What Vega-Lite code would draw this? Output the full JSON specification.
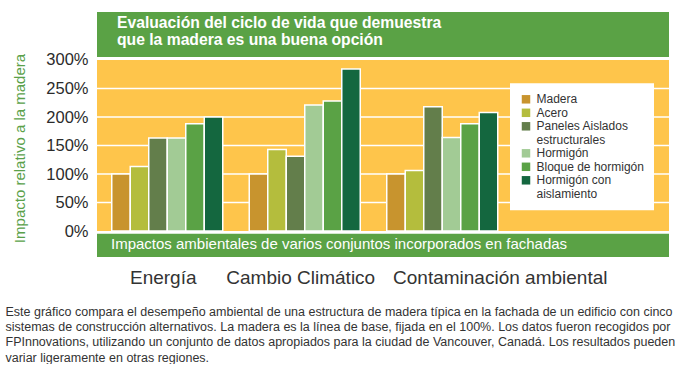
{
  "$schema": "https://vega.github.io/schema/vega-lite/v6.json",
  "width": 572,
  "height": 245,
  "padding": {"left": 5, "top": 12, "right": 0, "bottom": 0},
  "background": "white",
  "config": {"view": {"stroke": null}, "font": "Liberation Sans"},
  "datasets": {
    "bars": [
      {"impacto": "Energía", "material": "Madera", "valor": 100},
      {"impacto": "Energía", "material": "Acero", "valor": 113},
      {"impacto": "Energía", "material": "Paneles Aislados estructurales", "valor": 163},
      {"impacto": "Energía", "material": "Hormigón", "valor": 163},
      {"impacto": "Energía", "material": "Bloque de hormigón", "valor": 188},
      {"impacto": "Energía", "material": "Hormigón con aislamiento", "valor": 200},
      {"impacto": "Cambio Climático", "material": "Madera", "valor": 100},
      {"impacto": "Cambio Climático", "material": "Acero", "valor": 143},
      {"impacto": "Cambio Climático", "material": "Paneles Aislados estructurales", "valor": 131},
      {"impacto": "Cambio Climático", "material": "Hormigón", "valor": 221},
      {"impacto": "Cambio Climático", "material": "Bloque de hormigón", "valor": 228},
      {"impacto": "Cambio Climático", "material": "Hormigón con aislamiento", "valor": 284},
      {"impacto": "Contaminación ambiental", "material": "Madera", "valor": 100},
      {"impacto": "Contaminación ambiental", "material": "Acero", "valor": 106},
      {"impacto": "Contaminación ambiental", "material": "Paneles Aislados estructurales", "valor": 218},
      {"impacto": "Contaminación ambiental", "material": "Hormigón", "valor": 164},
      {"impacto": "Contaminación ambiental", "material": "Bloque de hormigón", "valor": 188},
      {"impacto": "Contaminación ambiental", "material": "Hormigón con aislamiento", "valor": 208}
    ],
    "grid": [{"pct": 50}, {"pct": 100}, {"pct": 150}, {"pct": 200}, {"pct": 250}],
    "one": [{}],
    "titulo": [{"t": "Evaluación del ciclo de vida que demuestra\nque la madera es una buena opción"}],
    "pie": [{"t": "Impactos ambientales de varios conjuntos incorporados en fachadas"}]
  },
  "layer": [
    {
      "data": {"name": "one"},
      "mark": {"type": "rect", "fill": "#fec54b"},
      "encoding": {
        "y": {"datum": 0, "type": "quantitative", "scale": {"domain": [-45.6, 384.2], "nice": false, "zero": false}},
        "y2": {"datum": 300}
      }
    },
    {
      "data": {"name": "one"},
      "mark": {"type": "rect", "fill": "#5aa245"},
      "encoding": {
        "y": {"datum": 305.3, "type": "quantitative", "scale": {"domain": [-45.6, 384.2], "nice": false, "zero": false}},
        "y2": {"datum": 384.2}
      }
    },
    {
      "data": {"name": "one"},
      "mark": {"type": "rect", "fill": "#5aa245"},
      "encoding": {
        "y": {"datum": -45.6, "type": "quantitative", "scale": {"domain": [-45.6, 384.2], "nice": false, "zero": false}},
        "y2": {"datum": -4.7}
      }
    },
    {
      "data": {"name": "grid"},
      "mark": {"type": "rule", "stroke": "white", "strokeWidth": 1.5},
      "encoding": {
        "y": {"field": "pct", "type": "quantitative", "scale": {"domain": [-45.6, 384.2], "nice": false, "zero": false}}
      }
    },
    {
      "data": {"name": "bars"},
      "mark": {"type": "bar", "stroke": "white", "strokeWidth": 1.5},
      "encoding": {
        "x": {
          "field": "impacto", "type": "nominal", "sort": null,
          "scale": {"domain": ["Energía", "Cambio Climático", "Contaminación ambiental"], "paddingInner": 0, "paddingOuter": 0.58, "align": 0.0094},
          "axis": {
            "domain": false, "ticks": false, "labelAngle": 0, "labelLimit": 0,
            "labelPadding": 11, "labelFontSize": 19, "labelColor": "#333333", "labelFont": "Liberation Sans",
            "labelOffset": {"condition": [{"test": "datum.value == 'Energía'", "value": -4}, {"test": "datum.value == 'Cambio Climático'", "value": -4}], "value": 58},
            "title": [
              "Este gráfico compara el desempeño ambiental de una estructura de madera típica en la fachada de un edificio con cinco",
              "sistemas de construcción alternativos. La madera es la línea de base, fijada en el 100%. Los datos fueron recogidos por",
              "FPInnovations, utilizando un conjunto de datos apropiados para la ciudad de Vancouver, Canadá. Los resultados pueden",
              "variar ligeramente en otras regiones."
            ],
            "titleX": -92, "titleY": 58, "titleAlign": "left", "titleAnchor": "start", "titleBaseline": "alphabetic", "titleLimit": 0,
            "titleFontSize": 12.5, "titleFontWeight": "normal", "titleColor": "#333333", "titleLineHeight": 15.4, "titleFont": "Liberation Sans"
          }
        },
        "xOffset": {
          "field": "material", "type": "nominal", "sort": null,
          "scale": {"domain": ["Madera", "Acero", "Paneles Aislados estructurales", "Hormigón", "Bloque de hormigón", "Hormigón con aislamiento"], "paddingInner": 0, "paddingOuter": 0.716}
        },
        "y": {
          "field": "valor", "type": "quantitative",
          "scale": {"domain": [-45.6, 384.2], "nice": false, "zero": false},
          "axis": {
            "values": [0, 50, 100, 150, 200, 250, 300],
            "labelExpr": "datum.value + '%'",
            "grid": false, "domain": false, "ticks": false,
            "labelPadding": 9, "labelFontSize": 16.5, "labelColor": "#2b2b2b", "labelFont": "Liberation Sans",
            "title": "Impacto relativo a la madera",
            "titleColor": "#5aa14a", "titleFontSize": 15, "titleFontWeight": "normal", "titleFont": "Liberation Sans",
            "titleX": -73, "titleY": 136, "titleAngle": -90, "titleAlign": "center", "titleBaseline": "alphabetic"
          }
        },
        "color": {
          "field": "material", "type": "nominal",
          "scale": {
            "domain": ["Madera", "Acero", "Paneles Aislados estructurales", "estructurales", "Hormigón", "Bloque de hormigón", "Hormigón con aislamiento", "aislamiento"],
            "range": ["#c8942e", "#b4bd3d", "#637e4b", "#ffffff", "#a2cb95", "#5aa245", "#14673f", "#ffffff"]
          },
          "legend": {
            "orient": "none", "legendX": 413, "legendY": 71.3, "direction": "vertical",
            "title": null, "fillColor": "white", "padding": 10,
            "symbolType": "square", "symbolSize": 72, "symbolStrokeWidth": 0,
            "labelFont": "Liberation Sans", "labelFontSize": 12, "labelColor": "#333333", "labelOffset": 4.5,
            "rowPadding": 1.5,
            "labelExpr": "datum.label == 'Paneles Aislados estructurales' ? 'Paneles Aislados' : datum.label == 'Hormigón con aislamiento' ? 'Hormigón con' : datum.label"
          }
        }
      }
    },
    {
      "data": {"name": "titulo"},
      "mark": {"type": "text", "lineBreak": "\n", "align": "left", "baseline": "alphabetic", "font": "Liberation Sans", "fontWeight": "bold", "fontSize": 15.7, "fill": "white", "lineHeight": 16.7, "dx": 18.5},
      "encoding": {
        "x": {"datum": "Energía", "type": "nominal", "bandPosition": 0, "scale": {"domain": ["Energía", "Cambio Climático", "Contaminación ambiental"], "paddingInner": 0, "paddingOuter": 0.58, "align": 0.0094}},
        "y": {"datum": 355.6, "type": "quantitative", "scale": {"domain": [-45.6, 384.2], "nice": false, "zero": false}},
        "text": {"field": "t"}
      }
    },
    {
      "data": {"name": "pie"},
      "mark": {"type": "text", "align": "left", "baseline": "alphabetic", "font": "Liberation Sans", "fontSize": 15, "fill": "white", "dx": 12.5},
      "encoding": {
        "x": {"datum": "Energía", "type": "nominal", "bandPosition": 0, "scale": {"domain": ["Energía", "Cambio Climático", "Contaminación ambiental"], "paddingInner": 0, "paddingOuter": 0.58, "align": 0.0094}},
        "y": {"datum": -32.1, "type": "quantitative", "scale": {"domain": [-45.6, 384.2], "nice": false, "zero": false}},
        "text": {"field": "t"}
      }
    }
  ]
}
